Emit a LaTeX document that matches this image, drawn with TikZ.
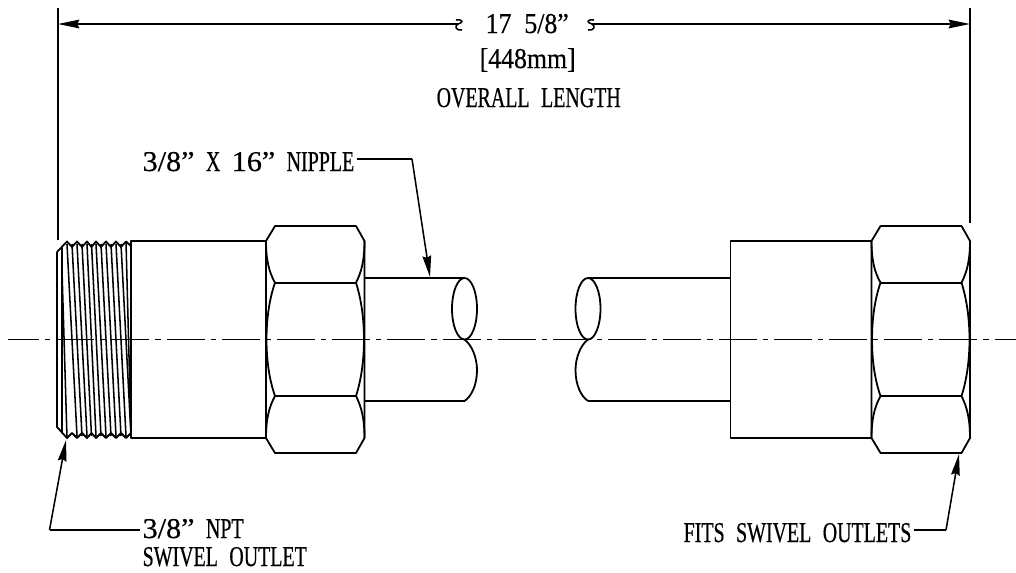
\documentclass[tikz,border=0pt]{standalone}
\usepackage{fontspec}
\setmainfont[FakeStretch=0.695,FakeBold=0.5,WordSpace=2.3,Ligatures=NoCommon]{Liberation Serif}
\newfontfamily\numfont[FakeStretch=0.9,FakeBold=0.5,WordSpace=2.0,Ligatures=NoCommon]{Liberation Serif}
\newfontfamily\inchfont[FakeStretch=1.05,FakeBold=0.5,Ligatures=NoCommon]{Liberation Serif}
\usetikzlibrary{arrows.meta}
\usetikzlibrary{positioning}
\tikzset{
    part/.style={
           draw=black, line width=1.35pt, line join=round,
           },
    thin part/.style={
           draw=black, line width=1.15pt,
           },
    leader/.style={
           draw=black, line width=1.15pt,
           },
    centerline/.style={
           draw=black, line width=1.3pt,
           dash pattern=on 28.5pt off 4.5pt on 3.9pt off 4.5pt, dash phase=5.25pt,
           },
    label/.style={
           inner sep=0pt, outer sep=2pt, anchor=base west,
           font=\fontsize{21.5}{24}\selectfont,
           },
}

\begin{document}
\begin{tikzpicture}[x=0.75pt,y=-0.75pt,>={Stealth[length=16pt,width=6.5pt,inset=1.5pt]}]
	\useasboundingbox (0,0) rectangle (1016,572);

	\node[label] (length)  at (483,33)  {\numfont 17 5/8”};
	\node[label] (metric)  at (477,68)  {\numfont [448mm]};
	\node[label] (overall) at (434,107) {OVERALL LENGTH};
	\node[label] (nipple)  at (140,171) {{\inchfont 3/8”} X {\inchfont 16”} NIPPLE};
	\node[label] (npt)     at (140,538) {{\inchfont 3/8”} NPT};
	\node[label] (swivel)  at (140,566) {SWIVEL OUTLET};
	\node[label] (fits)    at (681,542) {FITS SWIVEL OUTLETS};

	\coordinate (extL0) at (58,8);
	\coordinate (extL1) at (58,240);
	\coordinate (extR0) at (970,8);
	\coordinate (extR1) at (970,223);
	\coordinate (dimL) at (58,24);
	\coordinate (dimR) at (970,24);
	\coordinate (breakL) at (458,24);
	\coordinate (breakR) at (592,24);
	\coordinate (nippleK) at (412,159);
	\coordinate (nippleT) at (430,277);
	\coordinate (nptK) at (49.5,530);
	\coordinate (nptT) at (66,440);
	\coordinate (fitsK) at (946,530);
	\coordinate (fitsT) at (959,454);
	\coordinate (axisL) at (8,339.5);
	\coordinate (axisR) at (1016,339.5);

	% dimension
	\draw[leader] (extL0) -- (extL1);
	\draw[leader] (extR0) -- (extR1);
	\draw[leader,->] (breakL) -- (dimL);
	\draw[leader,->] (breakR) -- (dimR);
	\draw[leader] (456,20) .. controls (464,19) and (463,23) .. (breakL) .. controls (454,26) and (456,31) .. (462,30);
	\draw[leader] (594,20) .. controls (586,19) and (587,23) .. (breakR) .. controls (596,26) and (594,31) .. (588,30);

	% leaders
	\draw[leader] (nipple.east |- nippleK) -- (nippleK);
	\draw[leader,->] (nippleK) -- (nippleT);
	\draw[leader] (npt.west |- nptK) -- (nptK);
	\draw[leader,->] (nptK) -- (nptT);
	\draw[leader] (fits.east |- fitsK) -- (fitsK);
	\draw[leader,->] (fitsK) -- (fitsT);

	% threaded end
	\draw[part] (57,252) -- (57,427) -- (67,438)
		-- (72,433) -- (77,438) -- (82,433) -- (87,438) -- (91.5,433) -- (96,438) -- (101,433)
		-- (106,438) -- (111,433) -- (116,438) -- (121,433) -- (126,438) -- (131,433);
	\draw[part] (57,252) -- (67,241.5)
		-- (72,247) -- (77,241.5) -- (82,247) -- (87,241.5) -- (91.5,247) -- (96,241.5) -- (101,247)
		-- (106,241.5) -- (111,247) -- (116,241.5) -- (121,247) -- (126,241.5) -- (131,246);
	\draw[thin part] (62,247) -- (62,433);
	\draw[thin part] (62,270) -- (67,438);
	\foreach \xa/\xb in {67/77,72/82,77/87,82/91.5,87/96,91.5/101,96/106,101/111,106/116,111/121,116/126,121/131}
		\draw[thin part] (\xa,244) -- (\xb,436);
	\draw[thin part] (126,241.5) -- (131,433);

	% left body and nipple
	\draw[part] (266,241) -- (131,241) -- (131,438) -- (266,438);
	\draw[part] (364.5,278) -- (464.5,278);
	\draw[part] (364.5,401) -- (464.5,401);
	\draw[part] (464.5,308.75) ellipse [x radius=12.5,y radius=30.75];
	\draw[part] (464.5,339.5) .. controls (472,345) and (477,358) .. (477,370) .. controls (477,384) and (472,396) .. (464.5,401);

	% right body and nipple
	\draw[part] (588,278) -- (730.5,278);
	\draw[part] (588,401) -- (730.5,401);
	\draw[part] (588,308.75) ellipse [x radius=12.5,y radius=30.75];
	\draw[part] (588,339.5) .. controls (580.5,345) and (575.5,358) .. (575.5,370) .. controls (575.5,384) and (580.5,396) .. (588,401);
	\draw[part] (871.5,241) -- (730.5,241) -- (730.5,438) -- (871.5,438);

	% hex nuts
	\foreach \hx in {266,871.5}{
		\begin{scope}[shift={(\hx,0)}]
		\draw[part] (0,241) -- (9,226) -- (90,226) -- (98.5,241) -- (98.5,438) -- (90,453) -- (9,453) -- (0,438) -- cycle;
		\draw[part] (9,282.7) -- (90,282.7);
		\draw[part] (9,396) -- (90,396);
		\draw[part] (0,241) .. controls (0,260) and (3,272) .. (9,282.7) .. controls (3,300) and (0.5,320) .. (0.5,339.5)
			.. controls (0.5,359) and (3,379) .. (9,396) .. controls (3,407) and (0,419) .. (0,438);
		\draw[part] (98.5,241) .. controls (98.5,260) and (95.5,272) .. (90,282.7) .. controls (95.5,300) and (98,320) .. (98,339.5)
			.. controls (98,359) and (95.5,379) .. (90,396) .. controls (95.5,407) and (98.5,419) .. (98.5,438);
		\end{scope}
	}

	\draw[centerline] (axisL) -- (axisR);
\end{tikzpicture}
\end{document}
